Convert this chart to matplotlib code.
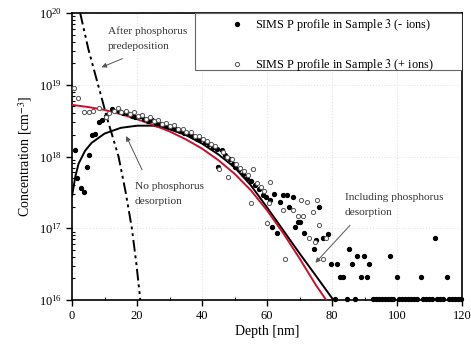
import numpy as np
import matplotlib
matplotlib.use("Agg")
import matplotlib.pyplot as plt
from matplotlib.patches import Rectangle
from matplotlib.ticker import MultipleLocator, LogLocator, NullFormatter

plt.rcParams['font.family'] = ['Liberation Serif', 'DejaVu Serif']
plt.rcParams['mathtext.fontset'] = 'stix'

# model curves (depth in nm, log10 of concentration in cm^-3)
predep_depth = [2.5, 5.0, 8.0, 11.0, 14.3, 16.5, 18.4, 19.8, 21.0]
predep_log = [20.0, 19.5, 19.0, 18.5, 18.0, 17.5, 17.0, 16.5, 16.0]

nodes_depth = [0, 5, 10, 15, 20, 25, 30, 35, 40, 45, 50, 55, 60, 65, 70, 75, 78.2]
nodes_log = [18.72, 18.69, 18.65, 18.59, 18.52, 18.44, 18.35, 18.24, 18.11, 17.95,
             17.76, 17.53, 17.25, 16.93, 16.58, 16.21, 16.0]

des_depth = [0, 1, 2, 4, 6, 10, 15, 20, 25, 30, 35, 40, 45, 50, 55, 60, 65, 70, 75, 80.4]
des_log = [17.45, 17.72, 17.90, 18.08, 18.19, 18.32, 18.40, 18.43, 18.43, 18.38, 18.30,
           18.18, 18.03, 17.85, 17.60, 17.29, 16.97, 16.65, 16.34, 16.0]

# SIMS (- ions), filled symbols
neg_depth = [0.9, 1.6, 2.7, 3.7, 4.6, 5.3, 6.0, 7.0, 8.2, 9.2, 10.5, 12.4,
             14.5, 15.8, 17.0, 18.3, 19.5, 20.8, 22.0, 23.3, 24.5, 25.8, 27.0, 28.3,
             29.5, 30.8, 32.0, 33.3, 34.5, 35.8, 37.0, 38.3, 39.5, 40.8, 42.0, 43.3,
             44.5, 45.0, 46.0, 47.2, 48.5, 49.6, 50.2, 51.4, 52.6, 53.8, 55.0, 56.2,
             57.4, 58.6, 59.8, 61.0, 61.4, 62.2, 63.2, 64.0, 65.0, 66.2, 66.9, 67.9,
             68.6, 69.6, 70.2, 71.4, 74.3, 75.1, 76.1, 77.1, 78.9, 79.6, 81.4, 82.5,
             83.3, 85.2, 86.0, 87.8, 88.9, 89.8, 90.6, 91.5, 97.8, 99.9, 107.3, 111.7,
             115.3,
             80.9, 84.5, 87.0, 92.6, 93.5, 94.4, 95.3, 96.2, 97.1, 98.0, 98.9, 100.7,
             101.6, 102.5, 103.4, 104.3, 105.2, 106.1, 107.9, 108.8, 109.7, 110.6,
             112.4, 113.3, 114.2, 116.0, 116.9, 117.8, 118.7, 119.6]
neg_log = [18.09, 17.70, 17.56, 17.51, 17.86, 18.02, 18.30, 18.32, 18.48, 18.51, 18.56, 18.66,
           18.63, 18.61, 18.60, 18.57, 18.55, 18.56, 18.52, 18.50, 18.51, 18.47, 18.46, 18.44,
           18.42, 18.40, 18.38, 18.36, 18.33, 18.31, 18.29, 18.25, 18.24, 18.20, 18.17, 18.13,
           18.10, 17.86, 18.09, 18.02, 17.97, 17.90, 17.85, 17.82, 17.75, 17.70, 17.66, 17.60,
           17.55, 17.47, 17.43, 17.40, 17.02, 17.48, 16.93, 17.37, 17.46, 17.46, 17.30, 17.43,
           17.02, 17.09, 17.09, 16.93, 16.71, 16.84, 17.29, 16.86, 16.92, 16.50, 16.50, 16.32,
           16.32, 16.71, 16.50, 16.62, 16.32, 16.62, 16.32, 16.50, 16.62, 16.32, 16.32, 16.86,
           16.32,
           16.02, 16.02, 16.02, 16.02, 16.02, 16.02, 16.02, 16.02, 16.02, 16.02, 16.02, 16.02,
           16.02, 16.02, 16.02, 16.02, 16.02, 16.02, 16.02, 16.02, 16.02, 16.02,
           16.02, 16.02, 16.02, 16.02, 16.02, 16.02, 16.02, 16.02]

# SIMS (+ ions), open symbols
pos_depth = [0.6, 1.7, 3.8, 5.1, 6.4, 8.4, 10.5, 11.5,
             12.8, 14.0, 15.2, 16.5, 17.7, 19.0, 20.2, 21.5, 22.7, 24.0, 25.2, 26.5,
             27.7, 29.0, 30.2, 31.5, 32.7, 34.0, 35.2, 36.5, 37.7, 39.0, 40.2, 41.5,
             42.7, 44.0, 45.3, 46.5, 47.8, 48.1, 49.2, 50.5, 51.8, 53.0, 54.2, 55.1,
             55.8, 56.8, 58.0, 59.2, 59.9, 60.7, 60.9,
             64.8, 65.5, 67.9, 69.6, 70.3, 71.0, 72.4, 73.0, 74.0, 74.8, 75.5, 76.1,
             77.1, 78.2]
pos_log = [18.96, 18.81, 18.62, 18.62, 18.63, 18.67, 18.55, 18.60,
           18.63, 18.67, 18.62, 18.64, 18.59, 18.62, 18.57, 18.58, 18.53, 18.55, 18.50, 18.51,
           18.46, 18.47, 18.42, 18.44, 18.39, 18.38, 18.34, 18.34, 18.29, 18.28, 18.24, 18.22,
           18.17, 18.15, 17.82, 18.06, 18.00, 17.71, 17.96, 17.90, 17.84, 17.80, 17.74, 17.35,
           17.83, 17.63, 17.57, 17.52, 17.07, 17.35, 17.65,
           17.26, 16.57, 17.26, 17.17, 17.40, 17.17, 17.37, 16.86, 17.22, 16.81, 17.39, 17.05,
           16.57, 16.87]

fig = plt.figure(figsize=(4.71, 3.47), dpi=100)
ax = fig.add_axes([0.153, 0.1354, 0.828, 0.827])
ax.set_yscale('log')

ax.grid(True, which='major', color='#e4e4e4', linestyle=':', linewidth=0.8)

ax.plot(predep_depth, np.power(10.0, predep_log), color='black', lw=1.4,
        dashes=(6, 2, 1.5, 2, 1.5, 2), zorder=3)
ax.plot(des_depth, np.power(10.0, des_log), color='black', lw=1.4, zorder=3)
ax.plot(nodes_depth, np.power(10.0, nodes_log), color='#c8102e', lw=1.4, zorder=3)

h1, = ax.plot(neg_depth, np.power(10.0, neg_log), 'o', ms=2.8, color='black',
              mec='black', ls='none', clip_on=False, zorder=4)
h2, = ax.plot(pos_depth, np.power(10.0, pos_log), 'o', ms=3.0, mfc='white',
              mec='#555555', mew=0.7, ls='none', clip_on=False, zorder=4)

ax.set_xlim(0, 120)
ax.set_ylim(1e16, 1e20)
ax.xaxis.set_major_locator(MultipleLocator(20))
ax.xaxis.set_minor_locator(MultipleLocator(10))
ax.yaxis.set_major_locator(LogLocator(base=10, numticks=10))
ax.yaxis.set_minor_locator(LogLocator(base=10, subs=np.arange(2, 10), numticks=20))
ax.yaxis.set_minor_formatter(NullFormatter())
ax.tick_params(which='major', direction='out', length=4, width=1, labelsize=9)
ax.tick_params(which='minor', direction='in', length=2.5, width=0.8)
for s in ax.spines.values():
    s.set_linewidth(1.2)

ax.set_xlabel('Depth [nm]', fontsize=10, labelpad=2)
ax.set_ylabel('Concentration [cm$^{-3}$]', fontsize=10, labelpad=3)

# legend box drawn by hand, legend itself frameless
ax.add_patch(Rectangle((0.315, 0.801), 0.685, 0.199, transform=ax.transAxes,
                       facecolor='white', edgecolor='#666666', lw=0.8, zorder=5))
leg = ax.legend([h1, h2],
                ['SIMS P profile in Sample $\\mathit{3}$ (- ions)',
                 'SIMS P profile in Sample $\\mathit{3}$ (+ ions)'],
                loc='upper left', bbox_to_anchor=(0.4, 0.985), fontsize=8.8,
                frameon=False, borderpad=0.0, labelspacing=1.95,
                handletextpad=0.7, borderaxespad=0.0, handlelength=1.5)
leg.set_zorder(6)

arrow = dict(arrowstyle='-|>', color='#555555', lw=0.7, mutation_scale=7)
ax.annotate('', xy=(8.3, 10**19.23), xytext=(16.3, 10**19.38), arrowprops=arrow)
ax.text(11.0, 10**19.64, 'After phosphorus\npredeposition', fontsize=8.2,
        ha='left', va='center', linespacing=1.9, color='#333333')

ax.annotate('', xy=(16.3, 10**18.32), xytext=(21.9, 10**17.78), arrowprops=arrow)
ax.text(19.4, 10**17.48, 'No phosphorus\ndesorption', fontsize=8.2,
        ha='left', va='center', linespacing=1.9, color='#333333')

ax.annotate('', xy=(74.3, 10**16.49), xytext=(86.1, 10**17.07), arrowprops=arrow)
ax.text(84.0, 10**17.32, 'Including phosphorus\ndesorption', fontsize=8.2,
        ha='left', va='center', linespacing=1.9, color='#333333')

fig.savefig('out.png', dpi=100)
